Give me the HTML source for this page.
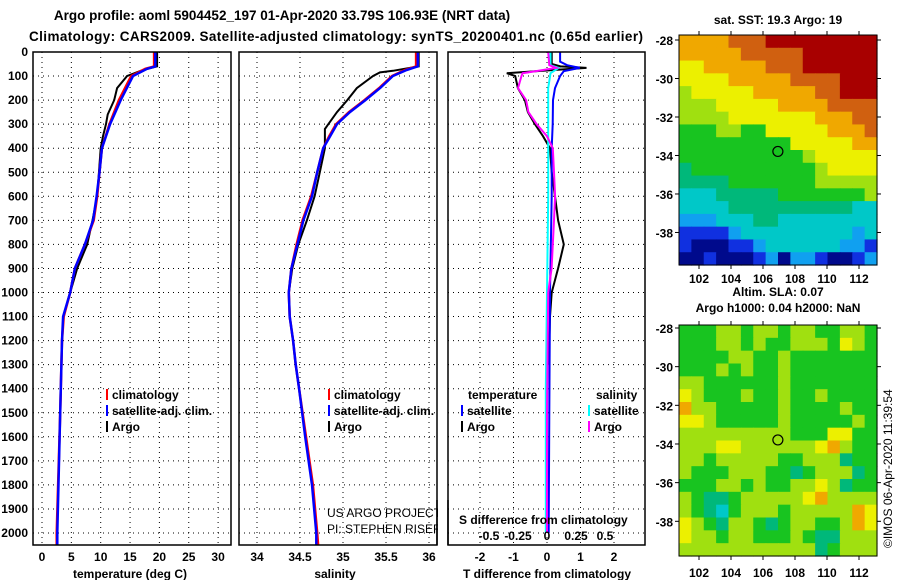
<!DOCTYPE html>
<html><head><meta charset="utf-8">
<style>
body{margin:0;background:#fff;}
svg{display:block;font-family:"Liberation Sans",sans-serif;}
.t{font-weight:bold;font-size:12px;fill:#000;}
.ttl{font-weight:bold;font-size:13.5px;fill:#000;}
</style></head>
<body>
<svg id="c" width="900" height="580" viewBox="0 0 900 580">
<text class="ttl" x="282" y="20" text-anchor="middle">Argo profile: aoml 5904452_197 01-Apr-2020 33.79S 106.93E (NRT data)</text>
<text class="ttl" x="336" y="41" text-anchor="middle" textLength="614">Climatology: CARS2009. Satellite-adjusted climatology: synTS_20200401.nc (0.65d earlier)</text>
<g id="gp"></g>
</svg>
<script>
// ---------- data ----------
const depthTicks = [0,100,200,300,400,500,600,700,800,900,1000,1100,1200,1300,1400,1500,1600,1700,1800,1900,2000];
const tempTicks = [0,5,10,15,20,25,30];
const salTicks = [34,34.5,35,35.5,36];
const tdTicks = [-2,-1,0,1,2];
const sdTicks = [-0.5,-0.25,0,0.25,0.5];
const sdTickLabels = ["-0.5","-0.25","0","0.25","0.5"];

const tempClimDepth = [0,60,70,100,200,300,400,500,600,700,800,900,1000,1100,1200,1500,2000,2050];
const tempClimRed = [19.1,19.1,17.6,15.2,13.1,11.5,10.2,9.8,9.4,8.8,7.3,5.6,4.8,3.7,3.4,3.1,2.5,2.5];
const tempClimBlue = [19.3,19.3,17.9,15.5,13.4,11.6,10.2,9.8,9.3,8.7,7.3,5.6,4.8,3.6,3.4,3.1,2.6,2.6];
const tempArgoDepth = [0,60,75,100,150,200,260,300,350,400,600,700,800,900,1000];
const tempArgo = [19.6,19.6,17.2,14.5,12.8,12.3,11.2,10.9,10.4,10.0,9.4,8.6,7.7,6.0,4.8];

const salClimDepth = [0,60,75,100,150,200,250,300,350,400,500,600,700,800,900,1000,1100,1200,1300,1400,1600,1800,2000,2050];
const salClimRed = [35.85,35.85,35.72,35.57,35.42,35.25,35.07,34.92,34.84,34.77,34.70,34.63,34.53,34.46,34.40,34.37,34.38,34.42,34.45,34.49,34.57,34.65,34.70,34.71];
const salClimBlue = [35.87,35.87,35.74,35.58,35.43,35.26,35.08,34.93,34.85,34.77,34.70,34.64,34.54,34.47,34.40,34.37,34.38,34.42,34.45,34.49,34.56,34.64,34.69,34.69];
const salArgoDepth = [0,60,78,85,100,150,200,250,300,320,400,500,600,700,800,900,1000];
const salArgo = [35.88,35.88,35.58,35.43,35.35,35.16,35.05,34.93,34.83,34.79,34.79,34.73,34.67,34.58,34.48,34.41,34.37];

const tdArgoDepth = [0,50,60,66,75,88,100,150,200,250,300,350,400,500,600,700,800,900,1000,1100,1300];
const tdArgo = [0.14,0.14,0.4,1.18,0.2,-1.2,-0.95,-0.87,-0.66,-0.57,-0.36,-0.12,0.09,0.14,0.24,0.33,0.5,0.33,0.14,0.09,0.05];
const tdSatDepth = [0,40,55,66,80,100,150,200,300,400,600,1000,1500,2000];
const tdSat = [0.39,0.39,0.6,0.98,0.5,0.39,0.24,0.18,0.17,0.14,0.14,0.09,0.07,0.05];
const sdArgoDepth = [0,55,66,80,88,100,150,200,250,300,350,400,500,600,700,800,900,1000,1500,2000];
const sdArgo = [0.01,0.02,0.08,-0.1,-0.21,-0.22,-0.25,-0.18,-0.16,-0.09,0,0.05,0.06,0.07,0.06,0.05,0.04,0.01,0.0,0.0];
const sdSatDepth = [0,55,66,88,150,300,600,1000,1400,2000];
const sdSat = [0.03,0.03,0.1,0.03,0.01,0.01,0.01,0.0,-0.01,-0.01];

const latTicks = [-28,-30,-32,-34,-36,-38];
const lonTicks = [102,104,106,108,110,112];
const sstRows = [
"8888999aaaaaaaaa","8888899999aaaaaa","7788888999aaaaaa","7777888889999aaa",
"6777778888899aaa","6667777788889999","6666777777788899","5556655777778889",
"5555555557777788","5555555555677777","4555555555567777","4444555555566666",
"3334444455555556","3333444444444433","2223334433333333","1111233333333323",
"1000112333333221","0010001202210012"];
const slaRows = [
"5556656656655665","5556656556665765","5555665565555555","5556565565555555",
"6655555565555555","7655565565565555","8665555565555655","7765555565555565",
"6666666665557755","6667766666678655","6656666655666455","6555666554566645",
"5556656556676455","6544566666786666","6543566656666687","7654665456655687",
"7665665556544666","6666666666645666"];
const argoLon = 106.93, argoLat = -33.79;

// ---------- helpers ----------
const NS="http://www.w3.org/2000/svg";
const root=document.getElementById('gp');
function mk(tag,attrs,parent){const e=document.createElementNS(NS,tag);for(const k in attrs)e.setAttribute(k,attrs[k]);(parent||root).appendChild(e);return e;}
const yD=d=>52+d*0.2405;
const PT={x0:33,x1:231}, PS={x0:239,x1:437}, PD={x0:448,x1:645};
const PTOP=52, PBOT=545;
const xT=v=>42+v*5.87;
const xS=v=>257+(v-34)*86;
const xTd=v=>547+v*33.5;
const xSd=v=>547+v*116;

function panel(P,name,xs,ticks,xf){
  const g=mk('g',{});
  
  
  depthTicks.forEach(d=>{const l=mk('line',{x1:P.x0,x2:P.x1,y1:yD(d),y2:yD(d),stroke:'#000','stroke-width':1,'stroke-dasharray':'1,4'},g);
    
    });
  ticks.forEach(v=>{const l=mk('line',{x1:xf(v),x2:xf(v),y1:PTOP,y2:PBOT,stroke:'#000','stroke-width':1,'stroke-dasharray':'1,4'},g);
    
    });
  return g;
}
function line(g,ds,vs,xf,color,w,name){
  const pts=ds.map((d,i)=>xf(vs[i]).toFixed(1)+','+yD(d).toFixed(1)).join(' ');
  const p=mk('polyline',{points:pts,fill:'none',stroke:color,'stroke-width':w},g);
  
  
}
function frame(P,name){
  const r=mk('rect',{x:P.x0,y:PTOP,width:P.x1-P.x0,height:PBOT-PTOP,fill:'none',stroke:'#000','stroke-width':1.5});
  
  
}
function txt(x,y,s,opts){
  const t=mk('text',Object.assign({x:x,y:y,class:'t'},opts||{}));t.textContent=s;return t;
}

// clip path for panels
const defs=mk('defs',{});
[['cT',PT],['cS',PS],['cD',PD]].forEach(([id,P])=>{const cp=mk('clipPath',{id:id},defs);mk('rect',{x:P.x0,y:PTOP,width:P.x1-P.x0,height:PBOT-PTOP},cp);});

// depth tick labels
depthTicks.forEach(d=>{const t=txt(28,yD(d)+4,String(d),{'text-anchor':'end'});
  
  });

// Temperature panel
const gT=panel(PT,'temperature-panel',0,tempTicks,xT);gT.setAttribute('clip-path','url(#cT)');
line(gT,tempArgoDepth,tempArgo,xT,'#000',2,'temp-argo-line');
line(gT,tempClimDepth,tempClimRed,xT,'#f00',2.5,'temp-climatology-line');
line(gT,tempClimDepth,tempClimBlue,xT,'#00f',2.5,'temp-satellite-clim-line');
frame(PT,'temperature-panel-frame');
tempTicks.forEach(v=>{const t=txt(xT(v),561,String(v),{'text-anchor':'middle'});
  
  });
{const t=txt(130,578,'temperature (deg C)',{'text-anchor':'middle'});}

// Salinity panel
const gS=panel(PS,'salinity-panel',0,salTicks,xS);gS.setAttribute('clip-path','url(#cS)');
line(gS,salArgoDepth,salArgo,xS,'#000',2,'sal-argo-line');
line(gS,salClimDepth,salClimRed,xS,'#f00',2.5,'sal-climatology-line');
line(gS,salClimDepth,salClimBlue,xS,'#00f',2.5,'sal-satellite-clim-line');
frame(PS,'salinity-panel-frame');
salTicks.forEach(v=>{const t=txt(xS(v),561,String(v),{'text-anchor':'middle'});
  
  });
{const t=txt(335,578,'salinity',{'text-anchor':'middle'});}

// Difference panel
const gD=panel(PD,'difference-panel',0,tdTicks,xTd);gD.setAttribute('clip-path','url(#cD)');
line(gD,tdArgoDepth,tdArgo,xTd,'#000',2,'tdiff-argo-line');
line(gD,tdSatDepth,tdSat,xTd,'#00f',2,'tdiff-satellite-line');
line(gD,sdSatDepth,sdSat,xSd,'#0ff',2,'sdiff-satellite-line');
line(gD,sdArgoDepth,sdArgo,xSd,'#f0f',2,'sdiff-argo-line');
frame(PD,'difference-panel-frame');
tdTicks.forEach(v=>{const t=txt(xTd(v),561,String(v),{'text-anchor':'middle'});
  
  });
sdTicks.forEach((v,i)=>{const t=txt(xSd(v),540,sdTickLabels[i],{'text-anchor':'middle'});
  
  });
{const t=txt(459,524,'S difference from climatology');}
{const t=txt(547,578,'T difference from climatology',{'text-anchor':'middle'});}

// legends
function leg(x,y,color,label,name){
  const g=mk('g',{});
  
  
  if(color) mk('rect',{x:x,y:y-10,width:2,height:11,fill:color},g);
  const t=mk('text',{x:x+6,y:y,class:'t'},g);t.textContent=label;
}
leg(106,399,'#f00','climatology','legend-temp-climatology');
leg(106,415,'#00f','satellite-adj. clim.','legend-temp-satellite');
leg(106,431,'#000','Argo','legend-temp-argo');
leg(328,399,'#f00','climatology','legend-sal-climatology');
leg(328,415,'#00f','satellite-adj. clim.','legend-sal-satellite');
leg(328,431,'#000','Argo','legend-sal-argo');
{const t=txt(468,399,'temperature');}
{const t=txt(596,399,'salinity');}
leg(461,415,'#00f','satellite','legend-tdiff-satellite');
leg(461,431,'#000','Argo','legend-tdiff-argo');
leg(588,415,'#0ff','satellite','legend-sdiff-satellite');
leg(588,431,'#f0f','Argo','legend-sdiff-argo');
{const t=mk('text',{x:327,y:517,'font-size':12,fill:'#000'});t.textContent='US ARGO PROJECT';}
{const t=mk('text',{x:327,y:533,'font-size':12,fill:'#000'});t.textContent='PI: STEPHEN RISER';}
// white mask right of salinity panel to clip credit text
mk('rect',{x:438,y:500,width:9,height:40,fill:'#fff'});
mk('line',{x1:437,x2:437,y1:500,y2:545,stroke:'#000','stroke-width':1.5});
mk('line',{x1:448,x2:448,y1:500,y2:545,stroke:'#000','stroke-width':1.5});

// ---------- maps ----------
const pal={'0':'#000a8c','1':'#1030e0','2':'#10a0f0','3':'#00c8c8','4':'#00b87a','5':'#18c420','6':'#a0e010','7':'#ecf000','8':'#f0a800','9':'#d06010','a':'#a80000'};
const M1={x0:679,x1:877,y0:35,y1:265,latTop:-28-(35-40)/19.25,name:'sst-map'};
const M2={x0:679,x1:877,y0:325,y1:556,latTop:-28-(325-328)/19.3,name:'sla-map'};
function drawMap(M,rows,lab0,labY){
  const g=mk('g',{});
  
  
  const nr=rows.length,nc=rows[0].length;
  const cw=(M.x1-M.x0)/nc,ch=(M.y1-M.y0)/nr;
  rows.forEach((r,i)=>{for(let j=0;j<nc;j++){
    const c=mk('rect',{x:(M.x0+j*cw).toFixed(2),y:(M.y0+i*ch).toFixed(2),width:(cw+0.6).toFixed(2),height:(ch+0.6).toFixed(2),fill:pal[r[j]]},g);
    
    
  }});
  const xL=v=>699+(v-102)*16;
  const yL=v=>lab0+(-28-v)*((M.y1-M.y0)/11.95);
  const fr=mk('rect',{x:M.x0,y:M.y0,width:M.x1-M.x0,height:M.y1-M.y0,fill:'none',stroke:'#000','stroke-width':1},g);
  
  
  latTicks.forEach(v=>{
    const t=txt(673,yL(v)+5,String(v),{'text-anchor':'end'});
    
    
    mk('line',{x1:M.x0-4,x2:M.x0,y1:yL(v),y2:yL(v),stroke:'#000'},g);
    mk('line',{x1:M.x1,x2:M.x1+4,y1:yL(v),y2:yL(v),stroke:'#000'},g);
  });
  lonTicks.forEach(v=>{
    const t=txt(xL(v),labY,String(v),{'text-anchor':'middle'});
    
    
    mk('line',{x1:xL(v),x2:xL(v),y1:M.y0-4,y2:M.y0,stroke:'#000'},g);
    mk('line',{x1:xL(v),x2:xL(v),y1:M.y1,y2:M.y1+4,stroke:'#000'},g);
  });
  const cc=mk('circle',{cx:xL(argoLon),cy:yL(argoLat),r:5,fill:'none',stroke:'#000','stroke-width':1.2},g);
  
  
}
drawMap(M1,sstRows,40,283);
drawMap(M2,slaRows,328,577);
{const t=txt(778,24,'sat. SST: 19.3 Argo: 19',{'text-anchor':'middle'});}
{const t=txt(778,296,'Altim. SLA: 0.07',{'text-anchor':'middle'});}
{const t=txt(778,312,'Argo h1000: 0.04 h2000: NaN',{'text-anchor':'middle'});}
{const t=mk('text',{x:0,y:0,'font-size':12,fill:'#000',transform:'translate(892,548) rotate(-90)'});t.textContent='©IMOS 06-Apr-2020 11:39:54';}
</script>
</body></html>
